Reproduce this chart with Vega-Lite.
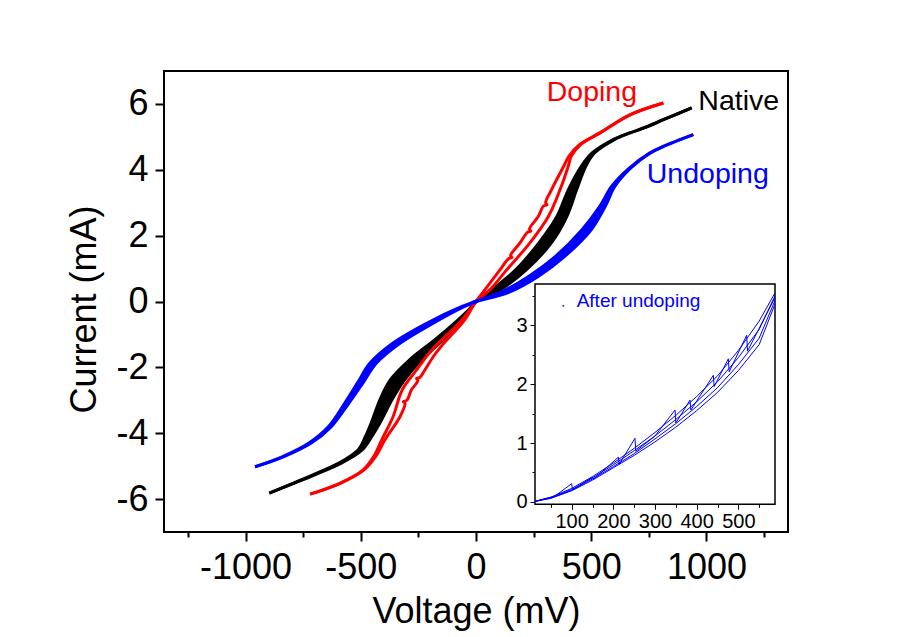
{
  "$schema": "https://vega.github.io/schema/vega-lite/v6.json",
  "width": 624,
  "height": 461,
  "autosize": "none",
  "padding": {"left": 164, "top": 71, "right": 116, "bottom": 105},
  "background": "white",
  "config": {
    "view": {"stroke": "black", "strokeWidth": 2},
    "font": "Liberation Sans",
    "axis": {
      "grid": false,
      "domain": false,
      "labelFont": "Liberation Sans",
      "titleFont": "Liberation Sans",
      "labelColor": "black",
      "titleColor": "black",
      "tickColor": "black",
      "tickWidth": 2,
      "titleFontWeight": "normal",
      "labelOverlap": false,
      "labelFlush": false
    }
  },
  "datasets": {
    "main": [
      {"s": "Native", "c": -5.82, "a": -897, "b": -897},
      {"s": "Native", "c": -5.5, "a": -788, "b": -782},
      {"s": "Native", "c": -5.27, "a": -710, "b": -702},
      {"s": "Native", "c": -4.91, "a": -596, "b": -584},
      {"s": "Native", "c": -4.51, "a": -512, "b": -494},
      {"s": "Native", "c": -4.1, "a": -480, "b": -452},
      {"s": "Native", "c": -3.6, "a": -450, "b": -410},
      {"s": "Native", "c": -3.0, "a": -418, "b": -366},
      {"s": "Native", "c": -2.38, "a": -372, "b": -310},
      {"s": "Native", "c": -1.77, "a": -288, "b": -236},
      {"s": "Native", "c": -1.16, "a": -178, "b": -142},
      {"s": "Native", "c": -0.6, "a": -85, "b": -65},
      {"s": "Native", "c": -0.25, "a": -32, "b": -24},
      {"s": "Native", "c": 0, "a": 0, "b": 0},
      {"s": "Native", "c": 0.36, "a": 70, "b": 106},
      {"s": "Native", "c": 0.96, "a": 172, "b": 218},
      {"s": "Native", "c": 1.78, "a": 273, "b": 327},
      {"s": "Native", "c": 2.58, "a": 351, "b": 394},
      {"s": "Native", "c": 3.4, "a": 401, "b": 437},
      {"s": "Native", "c": 4.1, "a": 456, "b": 476},
      {"s": "Native", "c": 4.51, "a": 504, "b": 514},
      {"s": "Native", "c": 4.91, "a": 593, "b": 599},
      {"s": "Native", "c": 5.12, "a": 666, "b": 670},
      {"s": "Native", "c": 5.3, "a": 738, "b": 742},
      {"s": "Native", "c": 5.52, "a": 812, "b": 814},
      {"s": "Native", "c": 5.88, "a": 936, "b": 936},
      {"s": "Doping", "c": -5.85, "a": -720, "b": -720},
      {"s": "Doping", "c": -5.52, "a": -591, "b": -589},
      {"s": "Doping", "c": -5.12, "a": -491, "b": -487},
      {"s": "Doping", "c": -4.71, "a": -444, "b": -436},
      {"s": "Doping", "c": -4.2, "a": -409, "b": -395},
      {"s": "Doping", "c": -3.5, "a": -360, "b": -330},
      {"s": "Doping", "c": -3.1, "b": -308},
      {"s": "Doping", "c": -3.04, "b": -315},
      {"s": "Doping", "c": -3.0, "b": -300},
      {"s": "Doping", "c": -2.68, "a": -320, "b": -280},
      {"s": "Doping", "c": -2.4, "b": -252},
      {"s": "Doping", "c": -2.34, "b": -258},
      {"s": "Doping", "c": -2.3, "b": -243},
      {"s": "Doping", "c": -2.08, "a": -258, "b": -222},
      {"s": "Doping", "c": -1.67, "a": -215, "b": -185},
      {"s": "Doping", "c": -1.37, "a": -178, "b": -152},
      {"s": "Doping", "c": -0.56, "a": -61, "b": -49},
      {"s": "Doping", "c": 0, "a": 0, "b": 0},
      {"s": "Doping", "c": 0.36, "a": 39, "b": 61},
      {"s": "Doping", "c": 0.96, "a": 104, "b": 133},
      {"s": "Doping", "c": 1.3, "a": 141},
      {"s": "Doping", "c": 1.34, "a": 156},
      {"s": "Doping", "c": 1.4, "a": 150},
      {"s": "Doping", "c": 1.78, "a": 191, "b": 234},
      {"s": "Doping", "c": 2.1, "a": 223},
      {"s": "Doping", "c": 2.14, "a": 238},
      {"s": "Doping", "c": 2.2, "a": 232},
      {"s": "Doping", "c": 2.58, "a": 270, "b": 314},
      {"s": "Doping", "c": 2.9, "a": 293},
      {"s": "Doping", "c": 2.94, "a": 308},
      {"s": "Doping", "c": 3.0, "a": 302},
      {"s": "Doping", "c": 3.4, "a": 328, "b": 365},
      {"s": "Doping", "c": 4.1, "a": 380, "b": 400},
      {"s": "Doping", "c": 4.41, "a": 403, "b": 413},
      {"s": "Doping", "c": 4.76, "a": 449, "b": 453},
      {"s": "Doping", "c": 5.12, "a": 537, "b": 539},
      {"s": "Doping", "c": 5.67, "a": 668, "b": 668},
      {"s": "Doping", "c": 6.03, "a": 813, "b": 813},
      {"s": "Undoping", "c": -5.02, "a": -959, "b": -959},
      {"s": "Undoping", "c": -4.71, "a": -839, "b": -833},
      {"s": "Undoping", "c": -4.3, "a": -725, "b": -715},
      {"s": "Undoping", "c": -3.8, "a": -640, "b": -628},
      {"s": "Undoping", "c": -3.09, "a": -570, "b": -552},
      {"s": "Undoping", "c": -2.48, "a": -515, "b": -491},
      {"s": "Undoping", "c": -1.87, "a": -460, "b": -432},
      {"s": "Undoping", "c": -1.26, "a": -360, "b": -328},
      {"s": "Undoping", "c": -0.66, "a": -214, "b": -186},
      {"s": "Undoping", "c": -0.15, "a": -61, "b": -49},
      {"s": "Undoping", "c": 0, "a": -4, "b": 4},
      {"s": "Undoping", "c": 0.26, "a": 101, "b": 137},
      {"s": "Undoping", "c": 0.76, "a": 228, "b": 270},
      {"s": "Undoping", "c": 1.37, "a": 345, "b": 385},
      {"s": "Undoping", "c": 2.18, "a": 460, "b": 500},
      {"s": "Undoping", "c": 2.89, "a": 537, "b": 561},
      {"s": "Undoping", "c": 3.5, "a": 589, "b": 603},
      {"s": "Undoping", "c": 4.05, "a": 665, "b": 671},
      {"s": "Undoping", "c": 4.51, "a": 753, "b": 757},
      {"s": "Undoping", "c": 4.71, "a": 812, "b": 814},
      {"s": "Undoping", "c": 5.07, "a": 943, "b": 943}
    ],
    "inset": [
      {"k": "s1", "v": 12, "i": 0.01}, {"k": "s1", "v": 50, "i": 0.08}, {"k": "s1", "v": 100, "i": 0.23}, {"k": "s1", "v": 150, "i": 0.43}, {"k": "s1", "v": 200, "i": 0.66}, {"k": "s1", "v": 250, "i": 0.91}, {"k": "s1", "v": 300, "i": 1.18}, {"k": "s1", "v": 350, "i": 1.47}, {"k": "s1", "v": 400, "i": 1.79}, {"k": "s1", "v": 450, "i": 2.14}, {"k": "s1", "v": 500, "i": 2.57}, {"k": "s1", "v": 550, "i": 3.07}, {"k": "s1", "v": 588, "i": 3.55},
      {"k": "s2", "v": 12, "i": 0.01}, {"k": "s2", "v": 50, "i": 0.07}, {"k": "s2", "v": 100, "i": 0.21}, {"k": "s2", "v": 150, "i": 0.41}, {"k": "s2", "v": 200, "i": 0.63}, {"k": "s2", "v": 250, "i": 0.87}, {"k": "s2", "v": 300, "i": 1.12}, {"k": "s2", "v": 350, "i": 1.4}, {"k": "s2", "v": 400, "i": 1.7}, {"k": "s2", "v": 450, "i": 2.04}, {"k": "s2", "v": 500, "i": 2.45}, {"k": "s2", "v": 550, "i": 2.93}, {"k": "s2", "v": 588, "i": 3.5},
      {"k": "s3", "v": 12, "i": 0.01}, {"k": "s3", "v": 50, "i": 0.07}, {"k": "s3", "v": 100, "i": 0.2}, {"k": "s3", "v": 150, "i": 0.39}, {"k": "s3", "v": 200, "i": 0.6}, {"k": "s3", "v": 250, "i": 0.82}, {"k": "s3", "v": 300, "i": 1.07}, {"k": "s3", "v": 350, "i": 1.33}, {"k": "s3", "v": 400, "i": 1.62}, {"k": "s3", "v": 450, "i": 1.94}, {"k": "s3", "v": 500, "i": 2.33}, {"k": "s3", "v": 550, "i": 2.78}, {"k": "s3", "v": 588, "i": 3.42},
      {"k": "s4", "v": 12, "i": 0.01}, {"k": "s4", "v": 50, "i": 0.06}, {"k": "s4", "v": 100, "i": 0.19}, {"k": "s4", "v": 150, "i": 0.37}, {"k": "s4", "v": 200, "i": 0.58}, {"k": "s4", "v": 250, "i": 0.79}, {"k": "s4", "v": 300, "i": 1.02}, {"k": "s4", "v": 350, "i": 1.27}, {"k": "s4", "v": 400, "i": 1.55}, {"k": "s4", "v": 450, "i": 1.86}, {"k": "s4", "v": 500, "i": 2.23}, {"k": "s4", "v": 550, "i": 2.67}, {"k": "s4", "v": 588, "i": 3.36},
      {"k": "saw", "v": 12, "i": 0.01}, {"k": "saw", "v": 60, "i": 0.1}, {"k": "saw", "v": 100, "i": 0.31}, {"k": "saw", "v": 102, "i": 0.2}, {"k": "saw", "v": 150, "i": 0.42}, {"k": "saw", "v": 152, "i": 0.38}, {"k": "saw", "v": 212, "i": 0.76}, {"k": "saw", "v": 214, "i": 0.64}, {"k": "saw", "v": 252, "i": 1.08}, {"k": "saw", "v": 254, "i": 0.86}, {"k": "saw", "v": 300, "i": 1.12}, {"k": "saw", "v": 348, "i": 1.56}, {"k": "saw", "v": 350, "i": 1.34}, {"k": "saw", "v": 384, "i": 1.73}, {"k": "saw", "v": 386, "i": 1.56}, {"k": "saw", "v": 440, "i": 2.15}, {"k": "saw", "v": 442, "i": 1.96}, {"k": "saw", "v": 476, "i": 2.43}, {"k": "saw", "v": 478, "i": 2.21}, {"k": "saw", "v": 520, "i": 2.83}, {"k": "saw", "v": 522, "i": 2.56}, {"k": "saw", "v": 588, "i": 3.47}
    ]
  },
  "layer": [
    {
      "layer": [
        {
          "data": {"name": "main"},
          "transform": [{"filter": "datum.s != 'Doping' && isValid(datum.a) && isValid(datum.b)"}],
          "mark": {"type": "area", "orient": "horizontal", "interpolate": "catmull-rom"},
          "encoding": {
            "y": {"field": "c", "type": "quantitative", "scale": {"domain": [-7, 7], "nice": false, "zero": false},
              "axis": {
                "orient": "left",
                "values": [-6, -5, -4, -3, -2, -1, 0, 1, 2, 3, 4, 5, 6],
                "labelExpr": "datum.value % 2 === 0 ? '' + datum.value : ''",
                "tickSize": {"condition": {"test": "datum.value % 2 === 0", "value": 9}, "value": 5},
                "labelPadding": 7,
                "labelFontSize": 36,
                "title": "Current (mA)",
                "titleFontSize": 36,
                "titleX": -69,
                "titleY": 238,
                "titleBaseline": "alphabetic"
              }
            },
            "x": {"field": "a", "type": "quantitative", "scale": {"domain": [-1354, 1354], "nice": false, "zero": false},
              "axis": {
                "orient": "bottom",
                "values": [-1250, -1000, -750, -500, -250, 0, 250, 500, 750, 1000, 1250],
                "labelExpr": "datum.value % 500 === 0 ? '' + datum.value : ''",
                "tickSize": {"condition": {"test": "datum.value % 500 === 0", "value": 9}, "value": 5},
                "labelPadding": 9,
                "labelFontSize": 36,
                "title": "Voltage (mV)",
                "titleFontSize": 36,
                "titleY": 90,
                "titleBaseline": "alphabetic"
              }
            },
            "x2": {"field": "b"},
            "color": {"field": "s", "type": "nominal", "scale": {"domain": ["Native", "Doping", "Undoping"], "range": ["#000000", "#ff0000", "#0000ff"]}, "legend": null}
          }
        },
        {
          "data": {"name": "main"},
          "transform": [
            {"fold": ["a", "b"], "as": ["k", "v"]},
            {"filter": "isValid(datum.v)"}
          ],
          "mark": {"type": "line", "strokeWidth": 3, "interpolate": "catmull-rom"},
          "encoding": {
            "x": {"field": "v", "type": "quantitative"},
            "y": {"field": "c", "type": "quantitative"},
            "order": {"field": "c", "type": "quantitative"},
            "detail": {"field": "k"},
            "color": {"field": "s", "type": "nominal", "legend": null}
          }
        },
        {
          "data": {"values": [{}]},
          "mark": {"type": "text", "text": "Doping", "color": "#ff0000", "fontSize": 28.5, "align": "left", "baseline": "alphabetic", "font": "Liberation Sans"},
          "encoding": {"x": {"datum": 307}, "y": {"datum": 6.08}}
        },
        {
          "data": {"values": [{}]},
          "mark": {"type": "text", "text": "Native", "color": "#000000", "fontSize": 28.5, "align": "left", "baseline": "alphabetic", "font": "Liberation Sans"},
          "encoding": {"x": {"datum": 965}, "y": {"datum": 5.83}}
        },
        {
          "data": {"values": [{}]},
          "mark": {"type": "text", "text": "Undoping", "color": "#0000ff", "fontSize": 28.5, "align": "left", "baseline": "alphabetic", "font": "Liberation Sans"},
          "encoding": {"x": {"datum": 741}, "y": {"datum": 3.6}}
        }
      ]
    },
    {
      "layer": [
        {
          "data": {"values": [{}]},
          "mark": {"type": "rect", "fill": "white", "stroke": "black", "strokeWidth": 1.5},
          "encoding": {
            "x": {"datum": 12, "type": "quantitative", "scale": {"domain": [12, 588], "range": [371, 611], "nice": false, "zero": false},
              "axis": {
                "orient": "bottom",
                "offset": -27.7,
                "values": [50, 100, 150, 200, 250, 300, 350, 400, 450, 500, 550],
                "labelExpr": "datum.value % 100 === 0 ? '' + datum.value : ''",
                "tickSize": {"condition": {"test": "datum.value % 100 === 0", "value": 5}, "value": 3},
                "tickWidth": 1,
                "labelPadding": 2,
                "labelFontSize": 20,
                "title": null
              }
            },
            "x2": {"datum": 588},
            "y": {"datum": -0.04, "type": "quantitative", "scale": {"domain": [-0.04, 3.7], "range": [433.3, 213], "nice": false, "zero": false},
              "axis": {
                "orient": "left",
                "offset": -371,
                "values": [0, 0.5, 1, 1.5, 2, 2.5, 3, 3.5],
                "labelExpr": "datum.value % 1 === 0 ? '' + datum.value : ''",
                "tickSize": {"condition": {"test": "datum.value % 1 === 0", "value": 5}, "value": 3},
                "tickWidth": 1,
                "labelPadding": 3,
                "labelFontSize": 20,
                "title": null
              }
            },
            "y2": {"datum": 3.7}
          }
        },
        {
          "data": {"name": "inset"},
          "mark": {"type": "line", "strokeWidth": 1, "color": "#0000ff"},
          "encoding": {
            "x": {"field": "v", "type": "quantitative"},
            "y": {"field": "i", "type": "quantitative"},
            "detail": {"field": "k"}
          }
        },
        {
          "data": {"values": [{}]},
          "mark": {"type": "point", "filled": true, "size": 5, "color": "#0000ff"},
          "encoding": {"x": {"datum": 80}, "y": {"datum": 3.33}}
        },
        {
          "data": {"values": [{}]},
          "mark": {"type": "text", "text": "After undoping", "color": "#0000ff", "fontSize": 19, "align": "left", "baseline": "alphabetic", "font": "Liberation Sans"},
          "encoding": {"x": {"datum": 112}, "y": {"datum": 3.31}}
        }
      ]
    }
  ],
  "resolve": {"scale": {"x": "independent", "y": "independent", "color": "independent"}, "axis": {"x": "independent", "y": "independent"}}
}
